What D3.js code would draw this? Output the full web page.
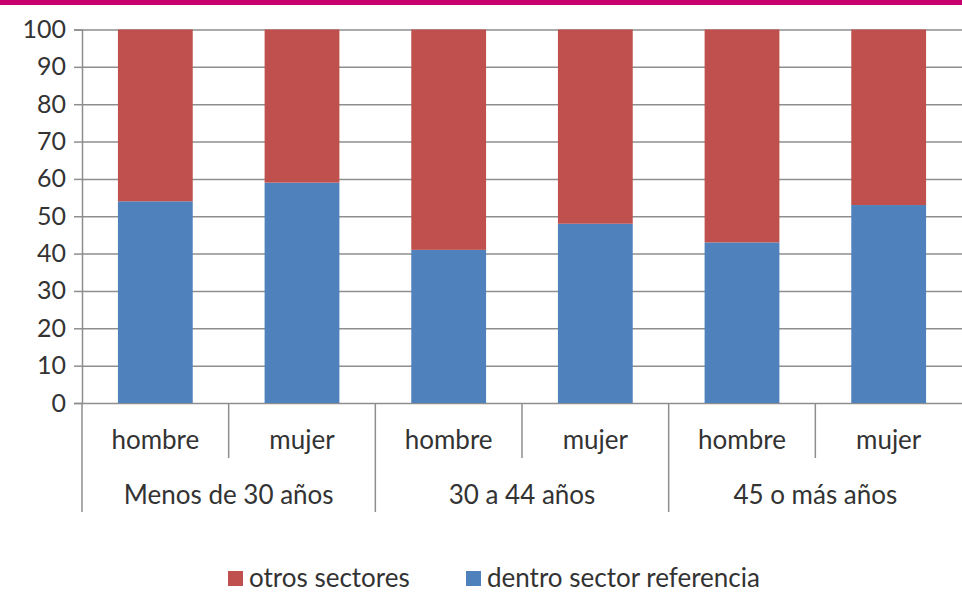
<!DOCTYPE html>
<html>
<head>
<meta charset="utf-8">
<script src="https://cdn.jsdelivr.net/npm/d3@7"></script>
<style>
  body { margin: 0; background: #fff; }
  text { font-family: Lato, "Open Sans", sans-serif; fill: #333; }
</style>
</head>
<body>
<div id="chart"></div>
<script>
// data
var groups = ["Menos de 30 años", "30 a 44 años", "45 o más años"];
var sexes = ["hombre", "mujer"];
var dentro = [54, 59, 41, 48, 43, 53];   // dentro sector referencia
var otros = [46, 41, 59, 52, 57, 47];    // otros sectores
var yTicks = [0, 10, 20, 30, 40, 50, 60, 70, 80, 90, 100];
var seriesNames = ["dentro sector referencia", "otros sectores"];
var colors = { "dentro sector referencia": "#4f81bd", "otros sectores": "#c0504d" };

var width = 962, height = 594;
var plotLeft = 82, plotRight = 962, plotTop = 29.5, plotBottom = 403;
var fontSize = "26px";

var svg = d3.select("#chart").append("svg")
  .attr("width", width)
  .attr("height", height);

// pink stripe on top
svg.append("rect")
  .attr("x", 0).attr("y", 0)
  .attr("width", width).attr("height", 5)
  .attr("fill", "#c8006e");

// build rows
var rows = [];
groups.forEach(function(g, gi) {
  sexes.forEach(function(s, si) {
    var i = gi * sexes.length + si;
    rows.push({
      key: g + "|" + s, group: g, sex: s,
      "dentro sector referencia": dentro[i],
      "otros sectores": otros[i]
    });
  });
});

var xScale = d3.scaleBand()
  .domain(rows.map(d => d.key))
  .range([plotLeft, plotRight])
  .paddingInner(0.49)
  .paddingOuter(0.245);

var yScale = d3.scaleLinear()
  .domain([0, 100])
  .range([plotBottom, plotTop]);

var step = xScale.step();

// gridlines
svg.append("g")
  .attr("transform", `translate(${plotLeft},0)`)
  .call(d3.axisLeft(yScale).tickValues(yTicks).tickSize(-(plotRight - plotLeft)).tickFormat(""))
  .call(g => g.select(".domain").remove())
  .selectAll("line")
  .attr("stroke", "#8e8e8e")
  .attr("stroke-width", 1.5);

// y axis with labels
var yAxis = svg.append("g")
  .attr("transform", `translate(${plotLeft},0)`)
  .call(d3.axisLeft(yScale).tickValues(yTicks).tickSize(8).tickPadding(8));
yAxis.select(".domain").attr("stroke", "#8e8e8e").attr("stroke-width", 1.5);
yAxis.selectAll("line").attr("stroke", "#8e8e8e").attr("stroke-width", 1.5);
yAxis.selectAll("text")
  .attr("font-size", "25px")
  .style("font-family", "Lato, 'Open Sans', sans-serif")
  .attr("fill", "#333");

// stacked bars
var stack = d3.stack().keys(seriesNames);
var stacked = stack(rows);

svg.selectAll("g.series")
  .data(stacked)
  .enter()
  .append("g")
  .attr("class", "series")
  .attr("fill", d => colors[d.key])
  .selectAll("rect")
  .data(d => d)
  .enter()
  .append("rect")
  .attr("x", d => xScale(d.data.key))
  .attr("y", d => yScale(d[1]))
  .attr("width", xScale.bandwidth())
  .attr("height", d => yScale(d[0]) - yScale(d[1]));

// category separators below the axis
var sepG = svg.append("g").attr("stroke", "#8e8e8e").attr("stroke-width", 1.5);
rows.forEach(function(d, i) {
  var x0 = xScale(d.key) - step * xScale.paddingInner() / 2;
  var isGroupEdge = i % sexes.length === 0;
  sepG.append("line")
    .attr("x1", x0).attr("x2", x0)
    .attr("y1", plotBottom).attr("y2", isGroupEdge ? 512 : 458);
});

// sex labels
svg.append("g").selectAll("text")
  .data(rows)
  .enter()
  .append("text")
  .attr("x", d => xScale(d.key) + xScale.bandwidth() / 2)
  .attr("y", 440)
  .attr("dy", "0.35em")
  .attr("text-anchor", "middle")
  .attr("font-size", fontSize)
  .text(d => d.sex);

// group labels
svg.append("g").selectAll("text")
  .data(groups)
  .enter()
  .append("text")
  .attr("x", (d, i) => plotLeft + step * sexes.length * (i + 0.5))
  .attr("y", 495)
  .attr("dy", "0.35em")
  .attr("text-anchor", "middle")
  .attr("font-size", fontSize)
  .text(d => d);

// legend
var legendItems = [
  { name: "otros sectores", x: 228 },
  { name: "dentro sector referencia", x: 466 }
];
var legend = svg.append("g");
legendItems.forEach(function(item) {
  legend.append("rect")
    .attr("x", item.x).attr("y", 571)
    .attr("width", 15).attr("height", 15)
    .attr("fill", colors[item.name]);
  legend.append("text")
    .attr("x", item.x + 21)
    .attr("y", 578)
    .attr("dy", "0.35em")
    .attr("font-size", fontSize)
    .text(item.name);
});
</script>
</body>
</html>
